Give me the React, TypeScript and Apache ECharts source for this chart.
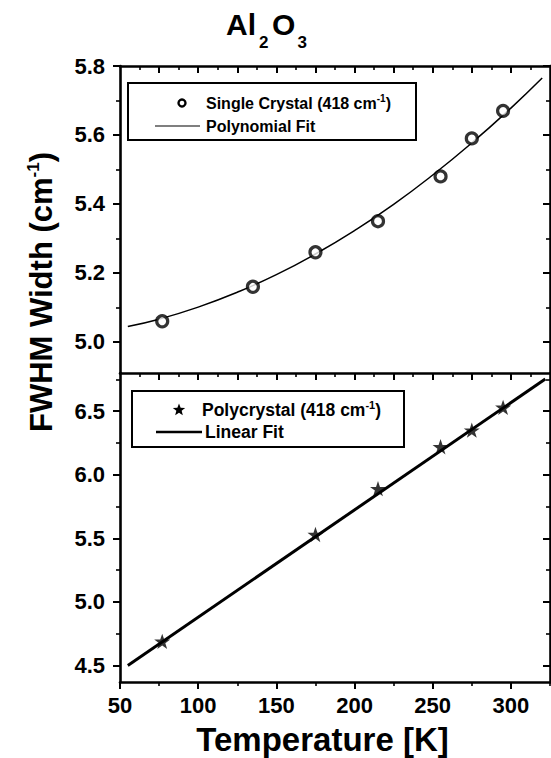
import React, { useEffect, useRef } from "react";
import * as echarts from "echarts";

// ---- axis tick values ----
const xBottomMajor = [50, 100, 150, 200, 250, 300];
const xBottomMinor = [75, 125, 175, 225, 275, 325];
const xTopMajor = [75, 100, 125, 150, 175, 200, 225, 250, 275, 300];
const xTopMinor = [62.5, 87.5, 112.5, 137.5, 162.5, 187.5, 212.5, 237.5, 262.5, 287.5, 312.5];
const yTopMajor = [5.0, 5.2, 5.4, 5.6, 5.8];
const yTopMinor = [5.1, 5.3, 5.5, 5.7];
const yBotMajor = [4.5, 5.0, 5.5, 6.0, 6.5];
const yBotMinor = [4.75, 5.25, 5.75, 6.25, 6.75];

// ---- data ----
const singleT = [77, 135, 175, 215, 255, 275, 295];
const singleW = [5.06, 5.16, 5.26, 5.35, 5.48, 5.59, 5.67];
const polyFitT = [55, 75, 100, 125, 150, 175, 200, 225, 250, 275, 300, 320];
const polyFitW = [5.045, 5.066, 5.101, 5.144, 5.195, 5.255, 5.323, 5.399, 5.484, 5.577, 5.678, 5.765];
const polyT = [77, 175, 215, 255, 275, 295];
const polyW = [4.69, 5.53, 5.89, 6.22, 6.35, 6.53];
const linFitT = [55, 322];
const linFitW = [4.5, 6.753];

const F = "'Liberation Sans', Arial, Helvetica, sans-serif";
const STAR =
  "path://M50,0 L61.8,35.1 L97.6,35.1 L68.5,56.7 L79.4,91 L50,70 L20.6,91 L31.5,56.7 L2.4,35.1 L38.2,35.1 Z";

function starPoints(cx: number, cy: number, R: number, r: number) {
  const pts: number[][] = [];
  for (let i = 0; i < 10; i++) {
    const a = -Math.PI / 2 + (i * Math.PI) / 5;
    const rad = i % 2 === 0 ? R : r;
    pts.push([cx + rad * Math.cos(a), cy + rad * Math.sin(a)]);
  }
  return pts;
}

function axis(
  gridIndex: number,
  position: string,
  min: number,
  max: number,
  ticks: number[],
  major: boolean,
  inside: boolean,
  showLine: boolean,
  labels?: { values: number[]; fmt: (v: number) => string; margin: number }
) {
  return {
    type: "value",
    gridIndex,
    position,
    min,
    max,
    splitLine: { show: false },
    axisLine: { show: showLine, onZero: false, lineStyle: { color: "#000", width: 2.6 } },
    axisTick: {
      show: true,
      inside,
      length: major ? 7 : 4,
      customValues: ticks,
      lineStyle: { color: "#000", width: major ? 2 : 1.6 },
    },
    axisLabel: labels
      ? {
          show: true,
          customValues: labels.values,
          formatter: labels.fmt,
          margin: labels.margin,
          color: "#000",
          fontSize: 22,
          fontWeight: "bold",
          fontFamily: F,
        }
      : { show: false },
  };
}

export default function App() {
  const ref = useRef<HTMLDivElement>(null);
  useEffect(() => {
    if (!ref.current) return;
    const chart = echarts.init(ref.current, undefined, { renderer: "svg" });
    const X0 = 50, X1 = 325;
    const T0 = 4.91, T1 = 5.8;
    const B0 = 4.37, B1 = 6.8;
    const f1 = (v: number) => v.toFixed(1);
    const fx = (v: number) => String(v);

    const xAxis = [
      axis(0, "bottom", X0, X1, xTopMajor, true, false, true),
      axis(0, "bottom", X0, X1, xTopMinor, false, false, false),
      axis(0, "top", X0, X1, xTopMajor, true, true, true),
      axis(0, "top", X0, X1, xTopMinor, false, true, false),
      axis(1, "bottom", X0, X1, xBottomMajor, true, false, true, { values: xBottomMajor, fmt: fx, margin: 12 }),
      axis(1, "bottom", X0, X1, xBottomMinor, false, false, false),
    ];
    const yAxis = [
      axis(0, "left", T0, T1, yTopMajor, true, false, true, { values: yTopMajor, fmt: f1, margin: 15 }),
      axis(0, "left", T0, T1, yTopMinor, false, false, false),
      axis(0, "right", T0, T1, yTopMajor, true, true, true),
      axis(0, "right", T0, T1, yTopMinor, false, true, false),
      axis(1, "left", B0, B1, yBotMajor, true, false, true, { values: yBotMajor, fmt: f1, margin: 15 }),
      axis(1, "left", B0, B1, yBotMinor, false, false, false),
      axis(1, "right", B0, B1, yBotMajor, true, true, true),
      axis(1, "right", B0, B1, yBotMinor, false, true, false),
    ];

    const txt = (
      text: string,
      x: number,
      y: number,
      size: number,
      align = "left",
      extra: any = {}
    ) => ({
      type: "text",
      x,
      y,
      z: 10,
      ...extra,
      style: {
        text,
        fill: "#000",
        fontSize: size,
        fontWeight: "bold",
        fontFamily: F,
        align,
        verticalAlign: "middle",
      },
    });

    const richLabel = (pre: string, sup: string, post: string, size: number, supSize: number) => ({
      text: `{n|${pre}}{s|${sup}}{n|${post}}`,
      rich: {
        n: { fontSize: size, fontWeight: "bold", fontFamily: F, fill: "#000", lineHeight: size + 3 },
        s: {
          fontSize: supSize,
          fontWeight: "bold",
          fontFamily: F,
          fill: "#000",
          lineHeight: supSize + 1,
          verticalAlign: "top",
        },
      },
    });

    const option: any = {
      animation: false,
      backgroundColor: "#fff",
      grid: [
        { left: 120, top: 66, width: 430, height: 307, containLabel: false },
        { left: 120, top: 373, width: 430, height: 309, containLabel: false },
      ],
      xAxis,
      yAxis,
      series: [
        {
          type: "line",
          xAxisIndex: 0,
          yAxisIndex: 0,
          data: polyFitT.map((t, i) => [t, polyFitW[i]]),
          smooth: true,
          showSymbol: false,
          lineStyle: { color: "#000", width: 1.5 },
          z: 2,
        },
        {
          type: "scatter",
          xAxisIndex: 0,
          yAxisIndex: 0,
          data: singleT.map((t, i) => [t, singleW[i]]),
          symbol: "circle",
          symbolSize: 11,
          itemStyle: { color: "#fff", borderColor: "#000", borderWidth: 3.2 },
          z: 3,
        },
        {
          type: "line",
          xAxisIndex: 4,
          yAxisIndex: 4,
          data: linFitT.map((t, i) => [t, linFitW[i]]),
          showSymbol: false,
          lineStyle: { color: "#000", width: 3 },
          z: 2,
        },
        {
          type: "scatter",
          xAxisIndex: 4,
          yAxisIndex: 4,
          data: polyT.map((t, i) => [t, polyW[i]]),
          symbol: STAR,
          symbolKeepAspect: true,
          symbolSize: 16,
          itemStyle: { color: "#000" },
          z: 3,
        },
      ],
      graphic: [
        // title Al2O3
        txt("Al", 226, 24.5, 30),
        txt("2", 259, 42.5, 17),
        txt("O", 272, 24.5, 30),
        txt("3", 297.5, 42.5, 17),
        // axis titles
        txt("Temperature [K]", 322.5, 739, 33, "center"),
        {
          type: "text",
          x: 41.5,
          y: 292,
          rotation: Math.PI / 2,
          z: 10,
          style: {
            ...richLabel("FWHM Width (cm", "-1", ")", 31, 17),
            align: "center",
            verticalAlign: "middle",
          },
        },
        // top legend
        {
          type: "rect",
          shape: { x: 128, y: 83, width: 288, height: 57 },
          style: { fill: "#fff", stroke: "#000", lineWidth: 2 },
          z: 5,
        },
        {
          type: "circle",
          shape: { cx: 182, cy: 103, r: 3.5 },
          style: { fill: "#fff", stroke: "#000", lineWidth: 2.4 },
          z: 6,
        },
        {
          type: "text",
          x: 206,
          y: 103,
          z: 6,
          style: { ...richLabel("Single Crystal (418 cm", "-1", ")", 16, 10), align: "left", verticalAlign: "middle" },
        },
        {
          type: "line",
          shape: { x1: 155, y1: 126, x2: 200, y2: 126 },
          style: { stroke: "#000", lineWidth: 1.2 },
          z: 6,
        },
        txt("Polynomial Fit", 206, 126, 16, "left", { z: 6 }),
        // bottom legend
        {
          type: "rect",
          shape: { x: 132, y: 391, width: 272, height: 56 },
          style: { fill: "#fff", stroke: "#000", lineWidth: 2 },
          z: 5,
        },
        {
          type: "polygon",
          shape: { points: starPoints(179, 410, 6.5, 2.8) },
          style: { fill: "#000" },
          z: 6,
        },
        {
          type: "text",
          x: 202,
          y: 410,
          z: 6,
          style: { ...richLabel("Polycrystal (418 cm", "-1", ")", 17.5, 11), align: "left", verticalAlign: "middle" },
        },
        {
          type: "line",
          shape: { x1: 156, y1: 432, x2: 202, y2: 432 },
          style: { stroke: "#000", lineWidth: 2.6 },
          z: 6,
        },
        txt("Linear Fit", 205, 432, 17.5, "left", { z: 6 }),
      ],
    };
    chart.setOption(option);
    return () => chart.dispose();
  }, []);
  return (
    <div
      ref={ref}
      style={{ position: "fixed", left: 0, top: 0, width: 551, height: 758, background: "#fff" }}
    />
  );
}
